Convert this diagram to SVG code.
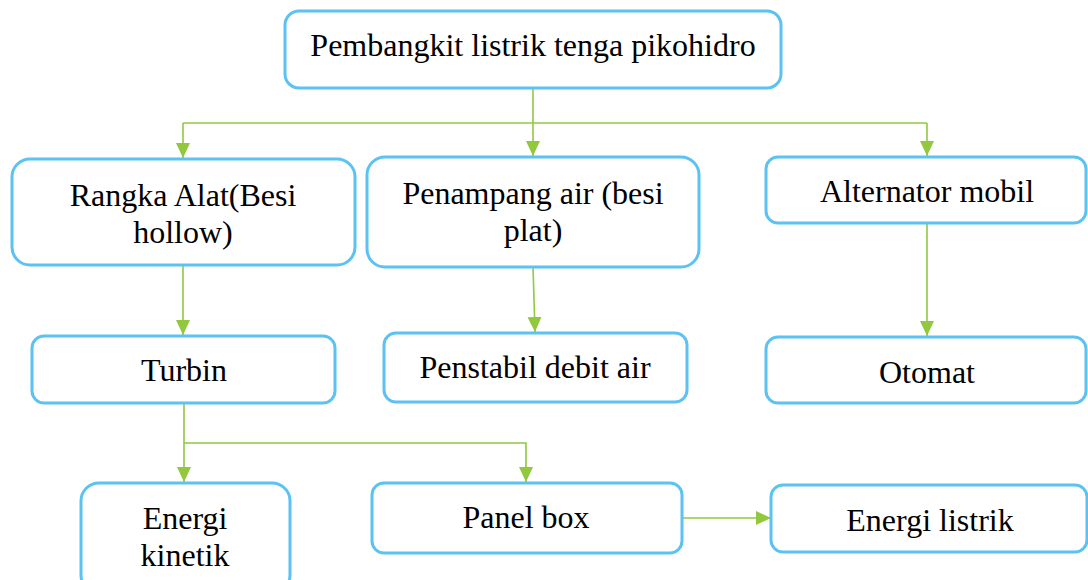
<svg xmlns="http://www.w3.org/2000/svg" width="1088" height="580" viewBox="0 0 1088 580">
<style>
.box{fill:#ffffff;stroke:#5bc2f2;stroke-width:3}
.t{font-family:'Liberation Serif','Times New Roman',Tinos,'DejaVu Serif',serif;font-size:32px;fill:#000;text-anchor:middle}
.c{fill:none;stroke:#92c83e;stroke-width:1.6}
</style>
<defs>
<marker id="ah" markerUnits="userSpaceOnUse" markerWidth="16" markerHeight="16" viewBox="0 0 16 16" refX="15" refY="8" orient="auto">
<path d="M0,1 L15,8 L0,15 Z" fill="#92c83e"/>
</marker>
</defs>
<rect width="1088" height="580" fill="#ffffff"/>
<g id="connectors">
<path class="c" d="M533,88 V123"/>
<path class="c" d="M183,123 H927"/>
<path class="c" d="M183,123 V158" marker-end="url(#ah)"/>
<path class="c" d="M533,123 V156" marker-end="url(#ah)"/>
<path class="c" d="M927,123 V156" marker-end="url(#ah)"/>
<path class="c" d="M183,265 V335" marker-end="url(#ah)"/>
<path class="c" d="M533,267 L535,332" marker-end="url(#ah)"/>
<path class="c" d="M927,223 V336" marker-end="url(#ah)"/>
<path class="c" d="M184,403 V482" marker-end="url(#ah)"/>
<path class="c" d="M184,443 H526 V482" marker-end="url(#ah)"/>
<path class="c" d="M682,518 H771" marker-end="url(#ah)"/>
</g>
<g id="n-top"><rect class="box" x="285" y="11" width="496" height="77" rx="14"/><text class="t" x="533" y="56">Pembangkit listrik tenga pikohidro</text></g>
<g id="n-rangka"><rect class="box" x="12" y="159" width="343" height="106" rx="18"/><text class="t" x="183" y="206">Rangka Alat(Besi</text><text class="t" x="183" y="243">hollow)</text></g>
<g id="n-penampang"><rect class="box" x="367" y="157" width="332" height="110" rx="18"/><text class="t" x="533" y="204">Penampang air (besi</text><text class="t" x="533" y="241">plat)</text></g>
<g id="n-alternator"><rect class="box" x="766" y="157" width="320" height="66" rx="12"/><text class="t" x="927" y="202">Alternator mobil</text></g>
<g id="n-turbin"><rect class="box" x="32" y="336" width="303" height="67" rx="12"/><text class="t" x="184" y="381">Turbin</text></g>
<g id="n-penstabil"><rect class="box" x="384" y="333" width="303" height="69" rx="12"/><text class="t" x="535" y="378">Penstabil debit air</text></g>
<g id="n-otomat"><rect class="box" x="766" y="337" width="320" height="66" rx="12"/><text class="t" x="927" y="383">Otomat</text></g>
<g id="n-kinetik"><rect class="box" x="81" y="483" width="209" height="110" rx="18"/><text class="t" x="185" y="529">Energi</text><text class="t" x="185" y="566">kinetik</text></g>
<g id="n-panel"><rect class="box" x="372" y="483" width="310" height="70" rx="12"/><text class="t" x="526" y="528">Panel box</text></g>
<g id="n-listrik"><rect class="box" x="771" y="485" width="316" height="67" rx="12"/><text class="t" x="930" y="531">Energi listrik</text></g>
</svg>
